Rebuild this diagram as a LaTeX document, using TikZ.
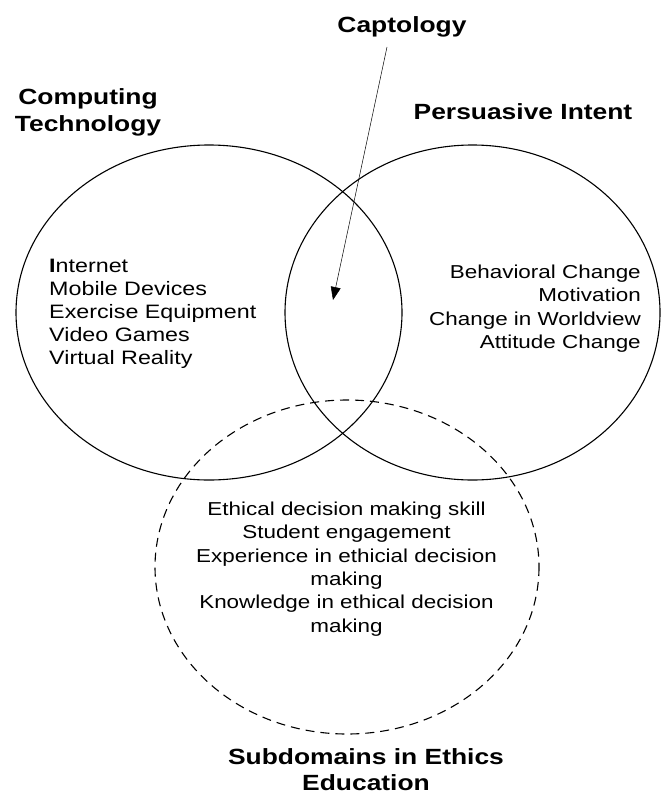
\documentclass[tikz,border=0pt]{standalone}
\usepackage{fontspec}
\setmainfont{Liberation Sans}
\usetikzlibrary{arrows.meta}
\begin{document}
\begin{tikzpicture}[x=1pt,y=-1pt,
  venn/.style={line width=1.1pt},
  title/.style={font=\fontsize{22}{27}\selectfont\bfseries, inner sep=0pt, xscale=1.2, align=center},
  body/.style={font=\fontsize{18.7}{23.4}\selectfont, inner sep=0pt, xscale=1.2},
  pointer/.style={line width=0.5pt, -{Triangle[length=13pt,width=10pt]}}]
\useasboundingbox (0,0) rectangle (661,797);
% circles
\draw[venn] (209,312.5) ellipse [x radius=193, y radius=167.5];
\draw[venn] (472.5,312.5) ellipse [x radius=187.5, y radius=167.5];
\draw[venn, dash pattern=on 9pt off 6pt] (347,567) ellipse [x radius=192, y radius=167];
% titles
\node[title, anchor=base] (capt) at (402,33) {Captology};
\node[title, anchor=north] (comp) at (88,88) {Computing\\Technology};
\node[title, anchor=base] (pers) at (523,120) {Persuasive Intent};
\node[title, font=\fontsize{22}{26}\selectfont\bfseries, anchor=north] (subd) at (366,748) {Subdomains in Ethics\\Education};
% lists
\node[body, font=\fontsize{19.4}{23}\selectfont, anchor=north west, align=left] (ctlist) at (49,259)
  {\textbf{I}nternet\\Mobile Devices\\Exercise Equipment\\Video Games\\Virtual Reality};
\node[body, anchor=north east, align=right] (pilist) at (641,264.5)
  {Behavioral Change\\Motivation\\Change in Worldview\\Attitude Change};
\node[body, anchor=north, align=center] (edlist) at (346.5,501.5)
  {Ethical decision making skill\\Student engagement\\Experience in ethicial decision\\making\\Knowledge in ethical decision\\making};
% arrow
\coordinate (astart) at (387,47);
\coordinate (aend) at (333,300);
\draw[pointer] (astart) -- (aend);
\end{tikzpicture}
\end{document}
